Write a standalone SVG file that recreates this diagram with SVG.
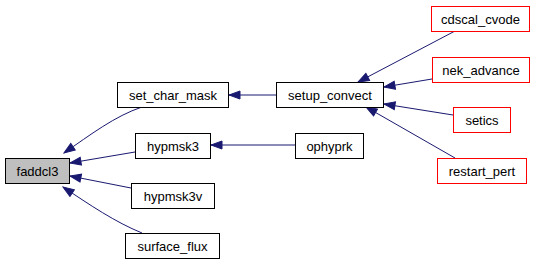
<svg xmlns="http://www.w3.org/2000/svg" width="539" height="265" viewBox="0 0 539 265">
  <style>
    .node rect { fill: #ffffff; stroke: #000000; stroke-width: 1; }
    .node.root rect { fill: #bfbfbf; }
    .node.ext rect { stroke: #ff0000; }
    .node text { font-family: "Liberation Sans", Arial, sans-serif; font-size: 13px; fill: #000000; text-anchor: middle; }
    .edge { fill: none; stroke: #191970; stroke-width: 1; }
  </style>
  <defs>
    <marker id="arrow" viewBox="-1 -1 13 10" refX="11" refY="4" markerWidth="13" markerHeight="10" markerUnits="userSpaceOnUse" orient="auto-start-reverse">
      <path d="M0,0 L11,4 L0,8 Z" fill="#191970" stroke="#191970"/>
    </marker>
  </defs>
  <rect width="539" height="265" fill="#ffffff"/>

  <g id="connectors">
    <path class="edge" marker-start="url(#arrow)" d="M64,153 C90,135 115,116 142,107"/>
    <path class="edge" marker-start="url(#arrow)" d="M70,163 L135,152"/>
    <path class="edge" marker-start="url(#arrow)" d="M70,176 L131,188"/>
    <path class="edge" marker-start="url(#arrow)" d="M63,187 C90,205 115,222 142,233"/>
    <path class="edge" marker-start="url(#arrow)" d="M229,95 L276,95"/>
    <path class="edge" marker-start="url(#arrow)" d="M211,145 L295,145"/>
    <path class="edge" marker-start="url(#arrow)" d="M358,82 L455,31"/>
    <path class="edge" marker-start="url(#arrow)" d="M384,87 L432,79"/>
    <path class="edge" marker-start="url(#arrow)" d="M384,104 L453,115"/>
    <path class="edge" marker-start="url(#arrow)" d="M366,107 L455,158"/>
  </g>

  <g id="faddcl3" class="node root">
    <rect x="5.5" y="158.5" width="64" height="25"/>
    <text x="37.5" y="175.5">faddcl3</text>
  </g>
  <g id="set_char_mask" class="node">
    <rect x="117.5" y="82.5" width="111" height="25"/>
    <text x="173" y="99.5">set_char_mask</text>
  </g>
  <g id="hypmsk3" class="node">
    <rect x="135.5" y="133.5" width="75" height="25"/>
    <text x="173" y="150.5">hypmsk3</text>
  </g>
  <g id="hypmsk3v" class="node">
    <rect x="131.5" y="183.5" width="83" height="25"/>
    <text x="173" y="200.5">hypmsk3v</text>
  </g>
  <g id="surface_flux" class="node">
    <rect x="125.5" y="233.5" width="94" height="25"/>
    <text x="172.5" y="250.5">surface_flux</text>
  </g>
  <g id="setup_convect" class="node">
    <rect x="276.5" y="82.5" width="107" height="25"/>
    <text x="330" y="99.5">setup_convect</text>
  </g>
  <g id="ophyprk" class="node">
    <rect x="295.5" y="133.5" width="68" height="25"/>
    <text x="329.5" y="150.5">ophyprk</text>
  </g>
  <g id="cdscal_cvode" class="node ext">
    <rect x="431.5" y="6.5" width="98" height="25"/>
    <text x="480.5" y="23.5">cdscal_cvode</text>
  </g>
  <g id="nek_advance" class="node ext">
    <rect x="432.5" y="57.5" width="97" height="25"/>
    <text x="481" y="74.5">nek_advance</text>
  </g>
  <g id="setics" class="node ext">
    <rect x="453.5" y="107.5" width="57" height="25"/>
    <text x="482" y="124.5">setics</text>
  </g>
  <g id="restart_pert" class="node ext">
    <rect x="437.5" y="158.5" width="89" height="25"/>
    <text x="482" y="175.5">restart_pert</text>
  </g>
</svg>
